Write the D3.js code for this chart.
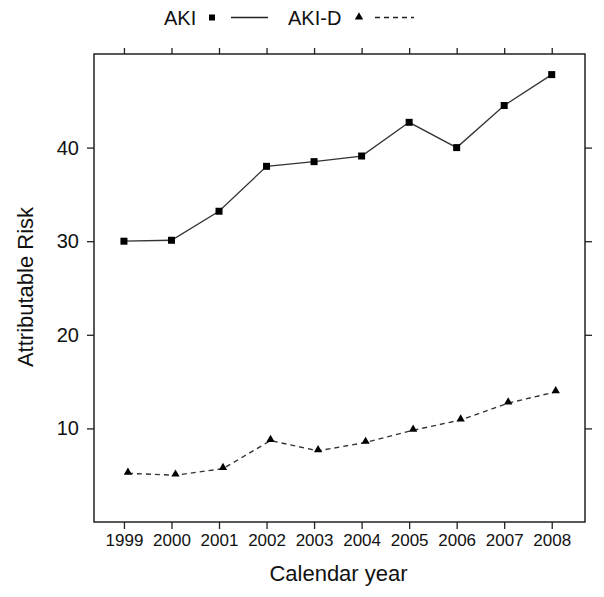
<!DOCTYPE html>
<html>
<head>
<meta charset="utf-8">
<script src="https://cdn.jsdelivr.net/npm/d3@7"></script>
<style>
  body { margin: 0; background: #fff; }
  text { font-family: "Liberation Sans", Arial, sans-serif; fill: #111; }
</style>
</head>
<body>
<div id="chart"></div>
<script>
var years = [1999, 2000, 2001, 2002, 2003, 2004, 2005, 2006, 2007, 2008]
var aki = [30.0, 30.1, 33.2, 38.0, 38.5, 39.1, 42.7, 40.0, 44.5, 47.8]
var akiD = [5.2, 5.0, 5.7, 8.7, 7.6, 8.5, 9.8, 10.9, 12.7, 13.9]
var yTicks = [10, 20, 30, 40]
var seriesNames = ["AKI", "AKI-D"]

var width = 604, height = 597
var margin = { top: 54, right: 19, bottom: 75, left: 94 }
var w = width - margin.left - margin.right
var h = height - margin.top - margin.bottom

var svg = d3.select("#chart").append("svg")
    .attr("width", width)
    .attr("height", height)

var g = svg.append("g")
    .attr("transform", "translate(" + margin.left + "," + margin.top + ")")

var x = d3.scaleLinear().domain([1998.37, 2008.7]).range([0, w])
var y = d3.scaleLinear().domain([0, 50]).range([h, 0])

var ink = "#222"

// axes on all four sides, lattice style
var axBottom = g.append("g").attr("transform", "translate(0," + h + ")")
    .call(d3.axisBottom(x).tickValues(years).tickFormat(d3.format("d")).tickSize(7).tickPadding(5))
var axTop = g.append("g")
    .call(d3.axisTop(x).tickValues(years).tickFormat("").tickSize(6))
var axLeft = g.append("g")
    .call(d3.axisLeft(y).tickValues(yTicks).tickSize(7).tickPadding(8))
var axRight = g.append("g").attr("transform", "translate(" + w + ",0)")
    .call(d3.axisRight(y).tickValues(yTicks).tickFormat("").tickSize(7))

;[axBottom, axTop, axLeft, axRight].forEach(function(a) {
    a.select(".domain").remove()
    a.selectAll("line").attr("stroke", ink).attr("stroke-width", 1.3)
})
axBottom.selectAll("text").style("font-size", "17px").attr("fill", "#111")
    .style("font-family", "'Liberation Sans', Arial, sans-serif")
axLeft.selectAll("text").style("font-size", "20px").attr("fill", "#111")
    .style("font-family", "'Liberation Sans', Arial, sans-serif")

g.append("rect")
    .attr("width", w).attr("height", h)
    .attr("fill", "none")
    .attr("stroke", ink)
    .attr("stroke-width", 1.5)

// lines
var line = d3.line()
    .x(function(d, i) { return x(years[i]) })
    .y(function(d) { return y(d) })

g.append("path").datum(aki)
    .attr("d", line)
    .attr("fill", "none")
    .attr("stroke", "#333")
    .attr("stroke-width", 1.3)

// the AKI-D points sit a little to the right in the original
var dodge = 4
g.append("path").datum(akiD)
    .attr("d", line)
    .attr("transform", "translate(" + dodge + ",0)")
    .attr("fill", "none")
    .attr("stroke", "#333")
    .attr("stroke-width", 1.4)
    .attr("stroke-dasharray", "5,4")

g.selectAll(".sq").data(aki).enter()
    .append("rect")
    .attr("class", "sq")
    .attr("x", function(d, i) { return x(years[i]) - 3.5 })
    .attr("y", function(d) { return y(d) - 3.5 })
    .attr("width", 7).attr("height", 7)
    .attr("fill", "#000")

var tri = d3.symbol().type(d3.symbolTriangle).size(30)
g.selectAll(".tri").data(akiD).enter()
    .append("path")
    .attr("class", "tri")
    .attr("d", tri)
    .attr("transform", function(d, i) { return "translate(" + (x(years[i]) + dodge) + "," + (y(d) - 1) + ")" })
    .attr("fill", "#000")

// axis titles
svg.append("text")
    .attr("x", margin.left + w / 2 - 1)
    .attr("y", 581)
    .attr("text-anchor", "middle")
    .style("font-size", "22px")
    .text("Calendar year")

svg.append("text")
    .attr("transform", "translate(33," + (margin.top + h / 2 - 1) + ") rotate(-90)")
    .attr("text-anchor", "middle")
    .style("font-size", "22px")
    .text("Attributable Risk")

// legend
var leg = svg.append("g")
leg.append("text").attr("x", 164).attr("y", 25).style("font-size", "20px").text(seriesNames[0])
leg.append("rect").attr("x", 209).attr("y", 14.5).attr("width", 6).attr("height", 6).attr("fill", "#000")
leg.append("line").attr("x1", 231).attr("x2", 268).attr("y1", 17.5).attr("y2", 17.5)
    .attr("stroke", "#222").attr("stroke-width", 1.3)
leg.append("text").attr("x", 288).attr("y", 25).style("font-size", "20px").text(seriesNames[1])
leg.append("path").attr("d", tri).attr("transform", "translate(359,17)").attr("fill", "#000")
leg.append("line").attr("x1", 375).attr("x2", 414).attr("y1", 17.5).attr("y2", 17.5)
    .attr("stroke", "#222").attr("stroke-width", 1.3).attr("stroke-dasharray", "5,4")
</script>
</body>
</html>
